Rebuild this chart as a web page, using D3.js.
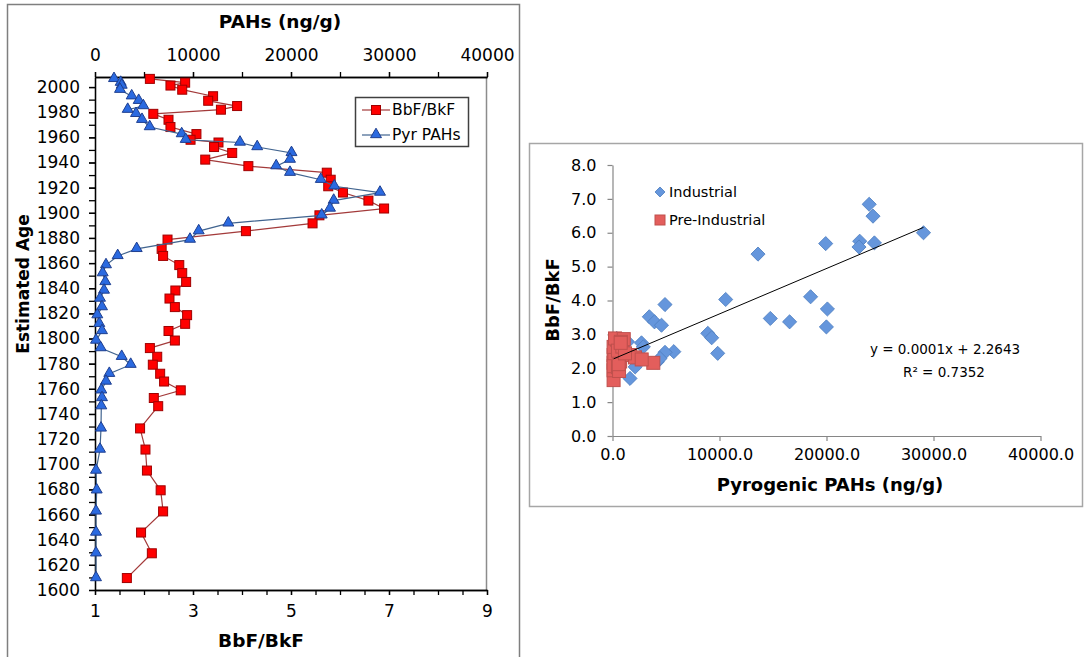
<!DOCTYPE html>
<html>
<head>
<meta charset="utf-8">
<script src="https://cdn.jsdelivr.net/npm/d3@7"></script>
<style>
body { margin: 0; background: #fff; }
text { font-family: "DejaVu Sans", Verdana, sans-serif; fill: #000; }
</style>
</head>
<body>
<svg id="chart"></svg>
<script>
// core samples (left chart): estimated age, BbF/BkF ratio, pyrogenic PAHs (ng/g)
var years = [2006.5, 2003.5, 2001.2, 1997.9, 1992.7, 1989.1, 1984.9, 1982.0, 1978.7, 1974.0,
    1968.2, 1962.6, 1958.1, 1955.9, 1952.3, 1947.6, 1942.3, 1937.1, 1931.9, 1926.3,
    1921.1, 1916.1, 1909.7, 1903.4, 1898.0, 1891.6, 1885.4, 1878.7, 1871.3, 1865.7,
    1858.4, 1852.0, 1845.0, 1838.2, 1831.8, 1825.0, 1818.6, 1811.7, 1806.0, 1798.4,
    1792.4, 1785.5, 1779.2, 1772.0, 1765.8, 1758.8, 1752.7, 1746.2, 1728.5, 1711.7,
    1695.0, 1679.3, 1662.5, 1645.7, 1629.2, 1609.5];
var ratio = [2.12, 2.84, 2.54, 2.78, 3.41, 3.31, 3.90, 3.57, 2.19, 2.50,
    2.54, 3.07, 2.95, 3.52, 3.43, 3.80, 3.25, 4.13, 5.73, 5.81,
    5.76, 6.06, 6.58, 6.90, 5.58, 5.44, 4.08, 2.48, 2.36, 2.39,
    2.72, 2.78, 2.86, 2.64, 2.52, 2.63, 2.88, 2.84, 2.50, 2.63,
    2.12, 2.27, 2.18, 2.33, 2.41, 2.75, 2.20, 2.29, 1.92, 2.03,
    2.06, 2.34, 2.39, 1.94, 2.16, 1.65];
var pah = [1939, 2622, 2724, 2551, 3745, 4459, 4929, 3337, 4184, 4796,
    5582, 8847, 9255, 14796, 16551, 20051, 19898, 18490, 19898, 23041,
    24419, 29082, 24357, 23980, 23133, 13602, 10582, 9694, 4255, 2316,
    1122, 786, 1051, 918, 510, 714, 235, 439, 714, 102,
    582, 2724, 3643, 1459, 1122, 643, 714, 643, 612, 510,
    102, 173, 102, 102, 102, 102];

// scatter (right chart)
var indX = [23990, 24346, 29065, 23103, 23037, 24477, 19925, 13598, 10579, 4906,
    18514, 20084, 14748, 16551, 19990, 3439, 3925, 4579, 8907, 9271,
    9832, 5729, 4907, 4184, 4439, 2710, 2879, 1402, 393, 1636, 2121];
var indY = [6.84, 6.49, 6.00, 5.75, 5.58, 5.70, 5.68, 5.37, 4.03, 3.88,
    4.11, 3.75, 3.47, 3.37, 3.22, 3.52, 3.37, 3.27, 3.03, 2.90,
    2.44, 2.49, 2.47, 2.19, 2.29, 2.75, 2.63, 2.78, 2.88, 1.70, 2.04];
var preX = [102, 102, 102, 102, 173, 102, 510, 612, 643, 714, 643, 1636, 2103,
    3813, 2729, 582, 102, 439, 235, 714, 510, 918, 1051, 786, 1168, 766];
var preY = [1.65, 2.16, 1.94, 2.39, 2.34, 2.06, 2.03, 1.92, 2.29, 2.20, 2.75, 2.39, 2.32,
    2.16, 2.26, 2.12, 2.63, 2.84, 2.88, 2.50, 2.52, 2.64, 2.86, 2.78, 2.44, 2.75];

var trendSlope = 0.000134;
var trendIntercept = 2.2643;
var eqLabel = "y = 0.0001x + 2.2643";
var r2Label = "R² = 0.7352";

var samples = years.map(function (y, i) {
    return { year: y, ratio: ratio[i], pah: pah[i] };
});

var svg = d3.select("#chart").attr("width", 1085).attr("height", 657);

// ---------- left chart ----------
var yAge = d3.scaleLinear().domain([1600, 2008]).range([590, 77]);
var xRatio = d3.scaleLinear().domain([1, 9]).range([95, 487]);
var xPah = d3.scaleLinear().domain([0, 40000]).range([95, 487]);

svg.append("rect")
    .attr("x", 7.5).attr("y", 4.5)
    .attr("width", 512).attr("height", 700)
    .attr("fill", "none").attr("stroke", "#7f7f7f").attr("stroke-width", 1.5);

svg.append("line")
    .attr("x1", 486.5).attr("x2", 486.5).attr("y1", 77).attr("y2", 590)
    .attr("stroke", "#8c8c8c").attr("stroke-width", 1.5);

function styleAxis(g, size) {
    g.selectAll("path, line").attr("stroke", "#000").attr("stroke-width", 1.3);
    g.selectAll("text").style("font-size", size).style("font-family", "DejaVu Sans");
}

svg.append("g").attr("transform", "translate(95,0)")
    .call(d3.axisLeft(yAge).tickValues(d3.range(1600, 2001, 10)).tickSize(6).tickSizeOuter(0).tickFormat(""))
    .call(styleAxis, "17px");
svg.append("g").attr("transform", "translate(95,0)")
    .call(d3.axisLeft(yAge).tickValues(d3.range(1600, 2001, 20)).tickSize(6).tickSizeOuter(0)
        .tickPadding(9).tickFormat(d3.format("d")))
    .call(styleAxis, "17px");

svg.append("g").attr("transform", "translate(0,590)")
    .call(d3.axisBottom(xRatio).tickValues(d3.range(1, 9.01, 0.5)).tickSize(5).tickSizeOuter(0).tickFormat(""))
    .call(styleAxis, "17px");
svg.append("g").attr("transform", "translate(0,590)")
    .call(d3.axisBottom(xRatio).tickValues([1, 3, 5, 7, 9]).tickSize(5).tickSizeOuter(0).tickPadding(10))
    .call(styleAxis, "17px");

svg.append("g").attr("transform", "translate(0,77)")
    .call(d3.axisTop(xPah).tickValues(d3.range(0, 40001, 5000)).tickSize(5).tickSizeOuter(0).tickFormat(""))
    .call(styleAxis, "17px");
svg.append("g").attr("transform", "translate(0,77)")
    .call(d3.axisTop(xPah).tickValues(d3.range(0, 40001, 10000)).tickSize(5).tickSizeOuter(0)
        .tickPadding(11).tickFormat(d3.format("d")))
    .call(styleAxis, "17px");

svg.append("text").attr("x", 280).attr("y", 22).attr("dy", "0.35em")
    .attr("text-anchor", "middle").style("font-size", "18.5px").style("font-weight", "bold")
    .text("PAHs (ng/g)");
svg.append("text").attr("x", 261).attr("y", 641).attr("dy", "0.35em")
    .attr("text-anchor", "middle").style("font-size", "18.5px").style("font-weight", "bold")
    .text("BbF/BkF");
svg.append("text").attr("transform", "translate(23,284) rotate(-90)").attr("dy", "0.35em")
    .attr("text-anchor", "middle").style("font-size", "17px").style("font-weight", "bold")
    .text("Estimated Age");

var redLine = d3.line().x(function (d) { return xRatio(d.ratio); }).y(function (d) { return yAge(d.year); });
var blueLine = d3.line().x(function (d) { return xPah(d.pah); }).y(function (d) { return yAge(d.year); });

svg.append("path").datum(samples).attr("d", redLine)
    .attr("fill", "none").attr("stroke", "#a33a3a").attr("stroke-width", 1.2);
svg.selectAll("rect.red").data(samples).enter().append("rect").attr("class", "red")
    .attr("x", function (d) { return xRatio(d.ratio) - 4.5; })
    .attr("y", function (d) { return yAge(d.year) - 4.5; })
    .attr("width", 9).attr("height", 9)
    .attr("fill", "#ff0000").attr("stroke", "#a00000").attr("stroke-width", 1);

var tri = d3.symbol().type(d3.symbolTriangle).size(52);
svg.append("path").datum(samples).attr("d", blueLine)
    .attr("fill", "none").attr("stroke", "#41648f").attr("stroke-width", 1.2);
svg.selectAll("path.blue").data(samples).enter().append("path").attr("class", "blue")
    .attr("d", tri)
    .attr("transform", function (d) { return "translate(" + xPah(d.pah) + "," + (yAge(d.year) - 0.5) + ")"; })
    .attr("fill", "#2b6ae0").attr("stroke", "#1f3f8f").attr("stroke-width", 1);

// legend
var lg = svg.append("g");
lg.append("rect").attr("x", 355.5).attr("y", 97.5).attr("width", 113).attr("height", 49)
    .attr("fill", "#fff").attr("stroke", "#404040").attr("stroke-width", 1.5);
lg.append("line").attr("x1", 362).attr("x2", 390).attr("y1", 110).attr("y2", 110)
    .attr("stroke", "#a33a3a").attr("stroke-width", 1.2);
lg.append("rect").attr("x", 371.5).attr("y", 105.5).attr("width", 9).attr("height", 9)
    .attr("fill", "#ff0000").attr("stroke", "#a00000");
lg.append("text").attr("x", 392).attr("y", 110).attr("dy", "0.35em").style("font-size", "15.5px").text("BbF/BkF");
lg.append("line").attr("x1", 362).attr("x2", 390).attr("y1", 135).attr("y2", 135)
    .attr("stroke", "#41648f").attr("stroke-width", 1.2);
lg.append("path").attr("d", tri).attr("transform", "translate(376,134.5)")
    .attr("fill", "#2b6ae0").attr("stroke", "#1f3f8f");
lg.append("text").attr("x", 392).attr("y", 135).attr("dy", "0.35em").style("font-size", "15.5px").text("Pyr PAHs");

// ---------- right chart ----------
var xP = d3.scaleLinear().domain([0, 40000]).range([612.5, 1040.5]);
var yR = d3.scaleLinear().domain([0, 8]).range([436, 165]);

svg.append("rect")
    .attr("x", 529.5).attr("y", 143.5)
    .attr("width", 553).attr("height", 363)
    .attr("fill", "none").attr("stroke", "#a6a6a6").attr("stroke-width", 1.5);

function styleGray(g) {
    g.selectAll("path, line").attr("stroke", "#868686").attr("stroke-width", 1.2);
    g.selectAll("text").style("font-size", "16px").style("font-family", "DejaVu Sans");
}

svg.append("g").attr("transform", "translate(0,436)")
    .call(d3.axisBottom(xP).tickValues(d3.range(0, 40001, 10000)).tickSize(5).tickSizeOuter(0)
        .tickPadding(8).tickFormat(d3.format(".1f")))
    .call(styleGray);
svg.append("g").attr("transform", "translate(612.5,0)")
    .call(d3.axisLeft(yR).tickValues(d3.range(0, 8.01, 1)).tickSize(5).tickSizeOuter(0)
        .tickPadding(11).tickFormat(d3.format(".1f")))
    .call(styleGray);

svg.append("text").attr("x", 830).attr("y", 485).attr("dy", "0.35em")
    .attr("text-anchor", "middle").style("font-size", "18px").style("font-weight", "bold")
    .text("Pyrogenic PAHs (ng/g)");
svg.append("text").attr("transform", "translate(553,300) rotate(-90)").attr("dy", "0.35em")
    .attr("text-anchor", "middle").style("font-size", "18px").style("font-weight", "bold")
    .text("BbF/BkF");

var ind = indX.map(function (x, i) { return { x: x, y: indY[i] }; });
var pre = preX.map(function (x, i) { return { x: x, y: preY[i] }; });

var diamond = d3.symbol().type(d3.symbolSquare).size(100);
svg.selectAll("path.ind").data(ind).enter().append("path").attr("class", "ind")
    .attr("d", diamond)
    .attr("transform", function (d) { return "translate(" + xP(d.x) + "," + yR(d.y) + ") rotate(45)"; })
    .attr("fill", "#6596dc").attr("stroke", "#4f7fc0").attr("stroke-width", 0.8);

svg.selectAll("rect.pre").data(pre).enter().append("rect").attr("class", "pre")
    .attr("x", function (d) { return xP(d.x) - 6.5; })
    .attr("y", function (d) { return yR(d.y) - 6.5; })
    .attr("width", 13).attr("height", 13)
    .attr("fill", "#e35e5c").attr("stroke", "#c0504d").attr("stroke-width", 1);

var tx = d3.extent(indX.concat(preX));
svg.append("line")
    .attr("x1", xP(tx[0])).attr("y1", yR(trendSlope * tx[0] + trendIntercept))
    .attr("x2", xP(tx[1])).attr("y2", yR(trendSlope * tx[1] + trendIntercept))
    .attr("stroke", "#000").attr("stroke-width", 1);

svg.append("text").attr("x", 945).attr("y", 349).attr("dy", "0.35em")
    .attr("text-anchor", "middle").style("font-size", "13.5px").text(eqLabel);
svg.append("text").attr("x", 944).attr("y", 372).attr("dy", "0.35em")
    .attr("text-anchor", "middle").style("font-size", "13.5px").text(r2Label);

// right legend
svg.append("path").attr("d", d3.symbol().type(d3.symbolSquare).size(50))
    .attr("transform", "translate(660,192) rotate(45)")
    .attr("fill", "#6596dc").attr("stroke", "#4f7fc0").attr("stroke-width", 0.8);
svg.append("text").attr("x", 669).attr("y", 192).attr("dy", "0.35em").style("font-size", "14.5px").text("Industrial");
svg.append("rect").attr("x", 655).attr("y", 215).attr("width", 10).attr("height", 10)
    .attr("fill", "#e35e5c").attr("stroke", "#c0504d");
svg.append("text").attr("x", 669).attr("y", 220).attr("dy", "0.35em").style("font-size", "14.5px").text("Pre-Industrial");
</script>
</body>
</html>
